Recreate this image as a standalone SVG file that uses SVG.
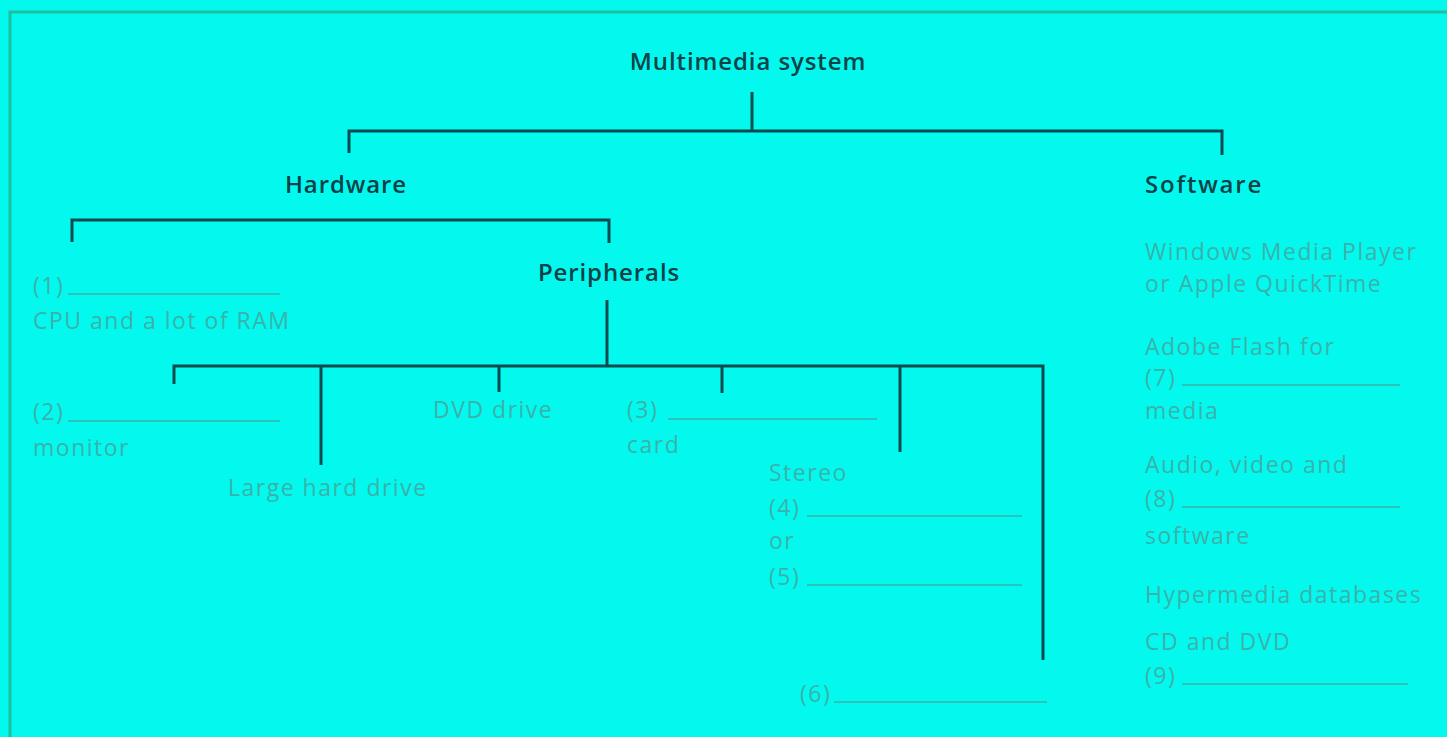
<svg xmlns="http://www.w3.org/2000/svg" width="1447" height="737" viewBox="0 0 1447 737">
<style>
.bg{fill:#03f9ee}
.frame{stroke:#1fbf9f;stroke-width:3;fill:none}
.h{font-family:"Open Sans","Liberation Sans",sans-serif;font-weight:600;font-size:24px;fill:#0c4248;letter-spacing:0.9px}
.t{font-family:"Open Sans","Liberation Sans",sans-serif;font-size:23px;fill:#3ab2ab;letter-spacing:1.5px}
.blank{stroke:#3ab2ab;stroke-width:1.3;fill:none}
.conn path{stroke:#0d4a50;stroke-width:3;fill:none}
</style>
<rect class="bg" x="0" y="0" width="1447" height="737"/>
<path class="frame" d="M10,737 V12 H1447"/>
<g id="connectors" class="conn">
<path d="M752,92 V131"/>
<path d="M349,153 V131 H1222 V155"/>
<path d="M72,242 V220 H609 V243"/>
<path d="M607,300 V366"/>
<path d="M174,384 V366 H1043 V660"/>
<path d="M321,366 V465"/>
<path d="M499,366 V392"/>
<path d="M722,366 V393"/>
<path d="M900,366 V452"/>
</g>
<g id="multimedia"><text class="h" x="748" y="70" text-anchor="middle">Multimedia system</text></g>
<g id="hardware"><text class="h" x="346" y="193" text-anchor="middle">Hardware</text></g>
<g id="software"><text class="h" x="1145" y="193" style="letter-spacing:1.8px">Software</text></g>
<g id="peripherals"><text class="h" x="609" y="281" text-anchor="middle">Peripherals</text></g>
<g id="item1"><text class="t" x="33" y="294">(1)</text><path class="blank" d="M68,294 H280"/><text class="t" x="33" y="329">CPU and a lot of RAM</text></g>
<g id="item2"><text class="t" x="33" y="420">(2)</text><path class="blank" d="M68,421 H280"/><text class="t" x="33" y="456">monitor</text></g>
<g id="harddrive"><text class="t" x="228" y="496">Large hard drive</text></g>
<g id="dvd"><text class="t" x="433" y="418">DVD drive</text></g>
<g id="item3"><text class="t" x="627" y="418">(3)</text><path class="blank" d="M668,419 H877"/><text class="t" x="627" y="453">card</text></g>
<g id="item45"><text class="t" x="769" y="481">Stereo</text><text class="t" x="769" y="516">(4)</text><path class="blank" d="M807,516 H1022"/><text class="t" x="769" y="549">or</text><text class="t" x="769" y="585">(5)</text><path class="blank" d="M807,585 H1022"/></g>
<g id="item6"><text class="t" x="800" y="702">(6)</text><path class="blank" d="M834,702 H1047"/></g>
<g id="sw1"><text class="t" x="1145" y="260">Windows Media Player</text><text class="t" x="1145" y="292">or Apple QuickTime</text></g>
<g id="sw2"><text class="t" x="1145" y="355">Adobe Flash for</text><text class="t" x="1145" y="386">(7)</text><path class="blank" d="M1182,385 H1400"/><text class="t" x="1145" y="419">media</text></g>
<g id="sw3"><text class="t" x="1145" y="473">Audio, video and</text><text class="t" x="1145" y="507">(8)</text><path class="blank" d="M1182,507 H1400"/><text class="t" x="1145" y="544">software</text></g>
<g id="sw4"><text class="t" x="1145" y="603">Hypermedia databases</text></g>
<g id="sw5"><text class="t" x="1145" y="650">CD and DVD</text><text class="t" x="1145" y="684">(9)</text><path class="blank" d="M1182,684 H1408"/></g>
</svg>
